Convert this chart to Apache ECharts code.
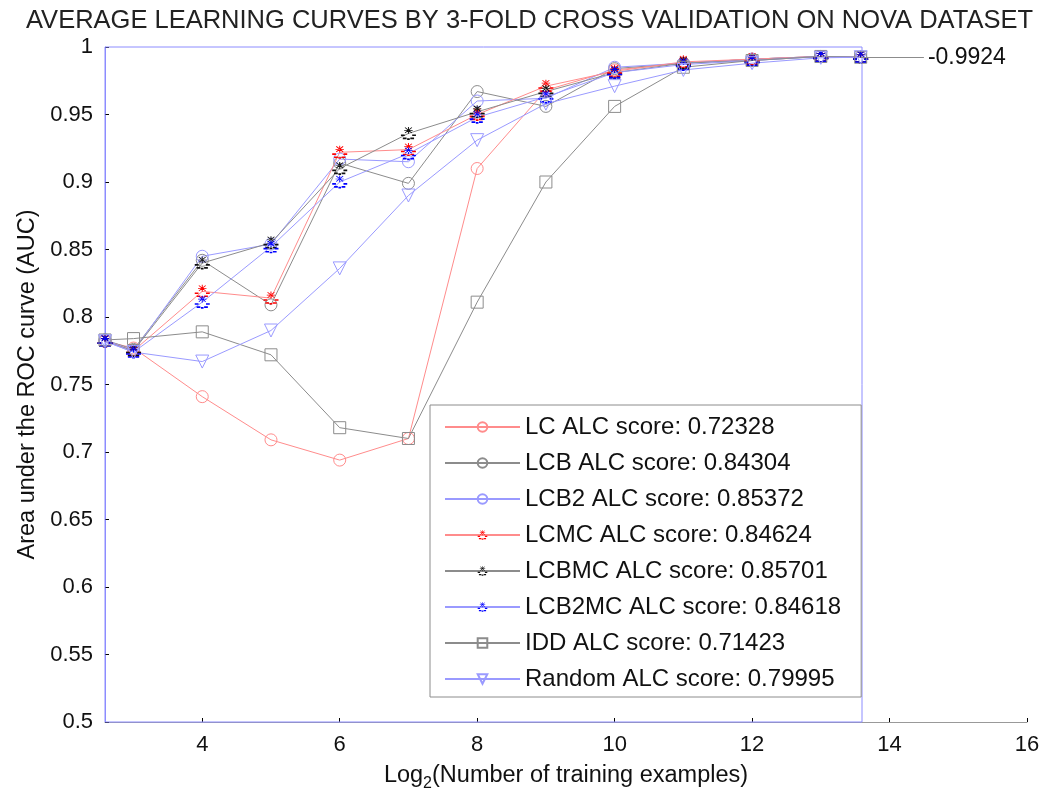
<!DOCTYPE html>
<html>
<head>
<meta charset="utf-8">
<script src="https://cdn.jsdelivr.net/npm/echarts@6/dist/echarts.min.js"></script>
<style>html,body{margin:0;padding:0;background:#fff;}#c{width:1059px;height:802px;}</style>
</head>
<body>
<div id="c"></div>
<script>
// ---- data ----
const xValues = [2.585, 3, 4, 5, 6, 7, 8, 9, 10, 11, 12, 13, 13.58];
const seriesNames = [
  'LC ALC score: 0.72328',
  'LCB ALC score: 0.84304',
  'LCB2 ALC score: 0.85372',
  'LCMC ALC score: 0.84624',
  'LCBMC ALC score: 0.85701',
  'LCB2MC ALC score: 0.84618',
  'IDD ALC score: 0.71423',
  'Random ALC score: 0.79995'
];
const LC     = [0.782, 0.777, 0.741, 0.709, 0.694, 0.710, 0.910, 0.968, 0.983, 0.988, 0.991, 0.993, 0.9924];
const LCB    = [0.783, 0.776, 0.842, 0.809, 0.914, 0.899, 0.967, 0.956, 0.984, 0.988, 0.991, 0.993, 0.9924];
const LCB2   = [0.783, 0.775, 0.845, 0.854, 0.917, 0.915, 0.960, 0.962, 0.985, 0.988, 0.991, 0.993, 0.9924];
const LCMC   = [0.782, 0.775, 0.819, 0.814, 0.922, 0.924, 0.950, 0.971, 0.982, 0.989, 0.991, 0.993, 0.9924];
const LCBMC  = [0.782, 0.775, 0.840, 0.855, 0.910, 0.936, 0.952, 0.967, 0.981, 0.988, 0.990, 0.993, 0.9924];
const LCB2MC = [0.782, 0.774, 0.811, 0.852, 0.900, 0.921, 0.948, 0.963, 0.981, 0.987, 0.990, 0.993, 0.9924];
const IDD    = [0.783, 0.784, 0.789, 0.772, 0.718, 0.710, 0.811, 0.900, 0.956, 0.985, 0.990, 0.993, 0.9924];
const Random = [0.782, 0.774, 0.767, 0.790, 0.836, 0.890, 0.931, 0.958, 0.971, 0.983, 0.988, 0.992, 0.9924];
const xTicks = [4, 6, 8, 10, 12, 14, 16];
const yTicks = [0.5, 0.55, 0.6, 0.65, 0.7, 0.75, 0.8, 0.85, 0.9, 0.95, 1];
const finalValue = 0.9924;
const finalLabel = '-0.9924';

// ---- styling ----
const FONT = 'Liberation Sans, Arial, sans-serif';
const lightRed = '#ff8c8c', gray = '#8c8c8c', lightBlue = '#9a9aff';
const clear = 'rgba(255,255,255,0)';
const starPath = 'path://M9.5,0h1v9h-1z M5.5,4.2h9v0.9h-9z M6,1.1L6.7,0.4L14,7.7L13.3,8.4z M14,1.1L13.3,0.4L6,7.7L6.7,8.4z M2,10h4v2.2h-4z M14,10h4v2.2h-4z M4,14h4v2.2h-4z M8.6,15h2.8v2.2h-2.8z M12,14h4v2.2h-4z';

function pts(arr) { return xValues.map((x, i) => [x, arr[i]]); }

function mk(name, arr, lineColor, symbol, itemStyle, opts) {
  const s = {
    name: name,
    type: 'line',
    data: pts(arr),
    symbol: symbol,
    symbolSize: 12,
    lineStyle: { color: lineColor, width: 1 },
    itemStyle: itemStyle,
    emphasis: { disabled: true },
    animation: false,
    z: 3
  };
  return Object.assign(s, opts || {});
}
function hollow(c) { return { color: clear, borderColor: c, borderWidth: 1 }; }
function solid(c) { return { color: c, borderWidth: 0 }; }

const series = [
  mk(seriesNames[0], LC, lightRed, 'circle', hollow(lightRed)),
  mk(seriesNames[1], LCB, gray, 'circle', hollow(gray)),
  mk(seriesNames[2], LCB2, lightBlue, 'circle', hollow(lightBlue)),
  mk(seriesNames[3], LCMC, lightRed, starPath, solid('#ff0000'), { symbolSize: [15, 13] }),
  mk(seriesNames[4], LCBMC, gray, starPath, solid('#111'), { symbolSize: [15, 13] }),
  mk(seriesNames[5], LCB2MC, lightBlue, starPath, solid('#0000ff'), { symbolSize: [15, 13] }),
  mk(seriesNames[6], IDD, gray, 'rect', hollow(gray), {
    symbolSize: 12,
    markLine: {
      silent: true,
      symbol: 'none',
      animation: false,
      lineStyle: { color: gray, width: 1, type: 'solid' },
      label: { show: true, position: 'end', formatter: finalLabel, fontSize: 23, fontFamily: FONT, color: '#111', distance: 4 },
      data: [[{ coord: [xValues[xValues.length - 1], finalValue] }, { coord: [14.5, finalValue] }]]
    }
  }),
  mk(seriesNames[7], Random, lightBlue, 'triangle', hollow(lightBlue), { symbolSize: 13, symbolRotate: 180 }),
  // empty series for the blue frame grid
  { type: 'line', xAxisIndex: 1, yAxisIndex: 1, data: [], silent: true }
];

const chart = echarts.init(document.getElementById('c'), null, { renderer: 'canvas' });
chart.setOption({
  backgroundColor: '#fff',
  animation: false,
  title: {
    text: 'AVERAGE LEARNING CURVES BY 3-FOLD CROSS VALIDATION ON NOVA DATASET',
    left: 'center',
    top: 3,
    textStyle: { fontSize: 25.5, fontWeight: 'normal', color: '#222', fontFamily: FONT }
  },
  grid: [
    { left: 105, right: 32, top: 47, bottom: 80, show: false },
    { left: 105, right: 197, top: 47, bottom: 80, show: true, borderColor: '#8c8cff', borderWidth: 1, backgroundColor: 'transparent', z: 1 }
  ],
  legend: {
    data: seriesNames,
    orient: 'vertical',
    left: 430,
    top: 405,
    padding: [10, 20, 6, 14],
    itemWidth: 75,
    itemHeight: 12,
    itemGap: 12,
    backgroundColor: '#fff',
    borderColor: '#8c8c8c',
    borderWidth: 1,
    textStyle: { fontSize: 24, fontFamily: FONT, color: '#111', lineHeight: 24 },
    z: 6
  },
  xAxis: [
    {
      type: 'value',
      gridIndex: 0,
      min: xValues[0],
      max: 16,
      name: '{n|Log}{s|2}{n|(Number of training examples)}',
      nameLocation: 'middle',
      nameGap: 38,
      nameTextStyle: {
        rich: {
          n: { fontSize: 23.5, fontFamily: FONT, color: '#111' },
          s: { fontSize: 16, fontFamily: FONT, color: '#111', verticalAlign: 'bottom', padding: [16, 0, 0, 0] }
        }
      },
      axisLine: { show: true, lineStyle: { color: '#999', width: 1 } },
      axisTick: { show: true, inside: true, length: 4, lineStyle: { color: '#000' }, customValues: xTicks },
      axisLabel: { show: true, fontSize: 22, fontFamily: FONT, color: '#111', margin: 12, customValues: xTicks },
      splitLine: { show: false }
    },
    {
      type: 'value', gridIndex: 1, min: xValues[0], max: xValues[xValues.length - 1], show: false
    }
  ],
  yAxis: [
    {
      type: 'value',
      gridIndex: 0,
      min: 0.5,
      max: 1,
      name: 'Area under the ROC curve (AUC)',
      nameLocation: 'middle',
      nameGap: 64,
      nameTextStyle: { fontSize: 23.5, fontFamily: FONT, color: '#111' },
      axisLine: { show: true, lineStyle: { color: '#8c8cff', width: 1 } },
      axisTick: { show: true, inside: true, length: 4, lineStyle: { color: '#000' }, customValues: yTicks },
      axisLabel: { show: true, fontSize: 22, fontFamily: FONT, color: '#111', margin: 12, customValues: yTicks,
        formatter: v => String(Math.round(v * 100) / 100) },
      splitLine: { show: false }
    },
    { type: 'value', gridIndex: 1, min: 0.5, max: 1, show: false }
  ],
  series: series
});
</script>
</body>
</html>
